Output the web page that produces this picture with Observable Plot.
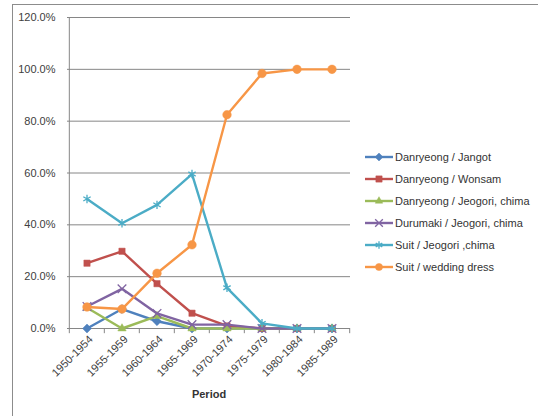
<!DOCTYPE html>
<html>
<head>
<meta charset="utf-8">
<script src="https://cdn.jsdelivr.net/npm/d3@7"></script>
<script src="https://cdn.jsdelivr.net/npm/@observablehq/plot@0.6"></script>
<style>
  html, body { margin: 0; padding: 0; background: #fff; }
  #wrap { position: relative; width: 538px; height: 416px; overflow: hidden; font-family: "Liberation Sans", Arial, sans-serif; }
  #frame { position: absolute; left: 12px; top: 4px; width: 600px; height: 500px; border-left: 1px solid #8c8c8c; border-top: 1px solid #8c8c8c; }
  #chart { position: absolute; left: 0; top: 0; }
  #legend { position: absolute; left: 364px; top: 146px; font-size: 11px; color: #333; }
  .item { display: flex; align-items: center; height: 22px; }
  .item svg { margin-right: 1px; }
</style>
</head>
<body>
<div id="wrap">
  <div id="frame"></div>
  <div id="chart"></div>
  <div id="legend"></div>
</div>
<script>
const periods = ["1950-1954","1955-1959","1960-1964","1965-1969","1970-1974","1975-1979","1980-1984","1985-1989"];
const seriesNames = ["Danryeong / Jangot","Danryeong / Wonsam","Danryeong / Jeogori, chima","Durumaki / Jeogori, chima","Suit / Jeogori ,chima","Suit / wedding dress"];
const jangot   = [0.000, 0.075, 0.028, 0.000, 0.000, 0.000, 0.000, 0.000];
const wonsam   = [0.252, 0.298, 0.173, 0.059, 0.010, 0.000, 0.000, 0.000];
const djeogori = [0.080, 0.000, 0.048, 0.000, 0.000, 0.000, 0.000, 0.000];
const durumaki = [0.085, 0.153, 0.058, 0.015, 0.015, 0.000, 0.000, 0.000];
const suitJeo  = [0.500, 0.406, 0.477, 0.596, 0.157, 0.020, 0.000, 0.000];
const wedding  = [0.083, 0.075, 0.213, 0.323, 0.825, 0.984, 1.000, 1.000];
const yTicks = [0, 0.2, 0.4, 0.6, 0.8, 1.0, 1.2];
const xTitle = "Period";

const colors  = ["#4F81BD","#C0504D","#9BBB59","#8064A2","#4BACC6","#F79646"];
const symbols = ["diamond2","square2","triangle2","times","asterisk","circle"];
const filled  = [true, true, true, false, false, true];
const values  = [jangot, wonsam, djeogori, durumaki, suitJeo, wedding];

const data = [];
seriesNames.forEach((s, i) => periods.forEach((p, j) => data.push({series: s, idx: i, period: p, value: values[i][j]})));

const W = 538, H = 416, mL = 67, mR = 188, mT = 17, mB = 88;
const bw = (W - mL - mR) / periods.length;

const marks = [
  Plot.ruleY(yTicks.slice(1), {stroke: "#868686", strokeWidth: 1, strokeOpacity: 1}),
  Plot.ruleY([0], {stroke: "#868686", strokeWidth: 1}),
  Plot.ruleX(periods, {x: d => d, dx: -bw/2, y1: 0, y2: -0.02, stroke: "#868686"}),
  Plot.ruleX([periods[periods.length-1]], {x: d => d, dx: bw/2, y1: 0, y2: -0.02, stroke: "#868686"}),
  Plot.ruleX([periods[0]], {x: d => d, dx: -bw/2, y1: 0, y2: 1.2, stroke: "#868686"}),
  Plot.axisY({ticks: yTicks, tickFormat: d3.format(".1%"), tickSize: 0, tickPadding: 12, label: null, fontSize: 11, fill: "#404040"}),
  Plot.text(periods, {x: d => d, y: 0, text: d => d, rotate: -45, textAnchor: "end", lineAnchor: "middle", dx: 4, dy: 9, fontSize: 11, fill: "#404040"}),
  Plot.text([xTitle], {frameAnchor: "bottom", text: d => d, dy: 69, fontSize: 11, fontWeight: "bold", fill: "#333"})
];
seriesNames.forEach((s, i) => {
  const d = data.filter(r => r.idx === i);
  marks.push(Plot.line(d, {x: "period", y: "value", stroke: colors[i], strokeWidth: 2.4}));
  marks.push(Plot.dot(d, {x: "period", y: "value", symbol: () => symbols[i], r: i === 5 ? 4.3 : 4,
    fill: filled[i] ? colors[i] : "none", stroke: colors[i], strokeWidth: filled[i] ? 0.5 : 1.3}));
});

const chart = Plot.plot({
  width: W, height: H, marginLeft: mL, marginRight: mR, marginTop: mT, marginBottom: mB,
  style: {background: "transparent", fontFamily: "Liberation Sans, Arial, sans-serif"},
  x: {type: "band", domain: periods, padding: 0, axis: null},
  y: {domain: [0, 1.2], axis: null},
  symbol: {type: "identity"},
  marks
});
document.getElementById("chart").appendChild(chart);

const legend = document.getElementById("legend");
seriesNames.forEach((s, i) => {
  const item = document.createElement("div");
  item.className = "item";
  const sw = d3.create("svg").attr("width", 30).attr("height", 12);
  sw.append("line").attr("x1", 1).attr("x2", 29).attr("y1", 6).attr("y2", 6).attr("stroke", colors[i]).attr("stroke-width", 2.4);
  const sym = d3.symbol().type({
    diamond2: d3.symbolDiamond2, square2: d3.symbolSquare2, triangle2: d3.symbolTriangle2,
    times: d3.symbolTimes, asterisk: d3.symbolAsterisk, circle: d3.symbolCircle
  }[symbols[i]]).size(i === 1 ? 50 : 40);
  sw.append("path").attr("d", sym()).attr("transform", "translate(15,6)")
    .attr("fill", filled[i] ? colors[i] : "none").attr("stroke", colors[i]).attr("stroke-width", filled[i] ? 0.5 : 1.3);
  item.appendChild(sw.node());
  const span = document.createElement("span");
  span.textContent = s;
  item.appendChild(span);
  legend.appendChild(item);
});
</script>
</body>
</html>
